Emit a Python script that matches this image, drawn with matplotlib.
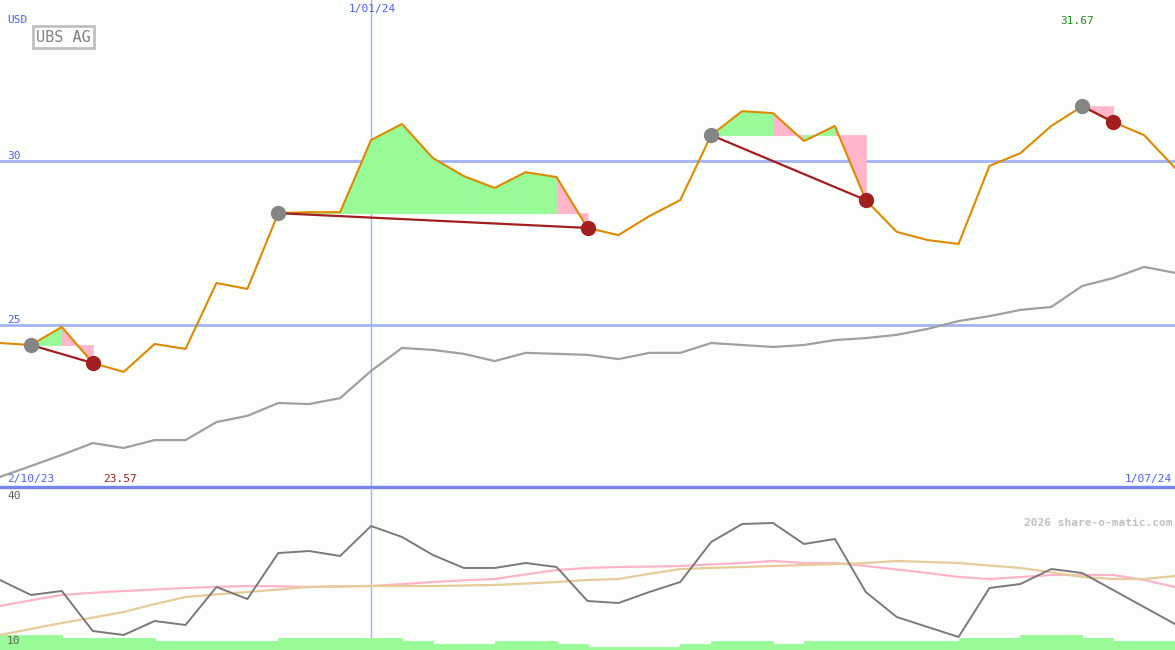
import matplotlib
matplotlib.use("Agg")
import matplotlib.pyplot as plt
import numpy as np

# weekly closes, 9 Oct 2023 .. 1 Jul 2024 (USD)
close = [24.45, 24.39, 24.94, 23.84, 23.57, 24.42, 24.27, 26.28, 26.10, 28.41,
         28.44, 28.44, 30.64, 31.13, 30.09, 29.54, 29.18, 29.66, 29.51, 27.96,
         27.74, 28.32, 28.81, 30.79, 31.52, 31.46, 30.61, 31.07, 28.81, 27.84,
         27.59, 27.47, 29.85, 30.24, 31.07, 31.67, 31.19, 30.79, 29.79]

# long moving average
avg = [20.37, 20.70, 21.04, 21.40, 21.25, 21.49, 21.49, 22.04, 22.23, 22.62,
       22.59, 22.77, 23.60, 24.30, 24.24, 24.12, 23.90, 24.15, 24.12, 24.09,
       23.96, 24.15, 24.15, 24.45, 24.39, 24.33, 24.39, 24.54, 24.60, 24.70,
       24.88, 25.12, 25.27, 25.46, 25.55, 26.19, 26.43, 26.77, 26.59]

# lower panel indicators
osc = [22.96, 20.19, 20.93, 13.52, 12.78, 15.37, 14.63, 21.67, 19.44, 27.96,
       28.33, 27.41, 32.96, 30.93, 27.59, 25.19, 25.19, 26.11, 25.37, 19.07,
       18.70, 20.74, 22.59, 30.00, 33.33, 33.52, 29.63, 30.56, 20.74, 16.11,
       14.26, 12.41, 21.48, 22.22, 25.00, 24.26, 21.11, 17.96, 14.81]
sig_pink = [18.15, 19.2, 20.19, 20.6, 20.93, 21.2, 21.48, 21.7, 21.85, 21.8,
            21.67, 21.75, 21.85, 22.2, 22.59, 22.9, 23.15, 24.0, 24.81, 25.19,
            25.37, 25.45, 25.56, 25.85, 26.11, 26.48, 26.11, 26.11, 25.56, 24.9,
            24.26, 23.52, 23.15, 23.5, 23.89, 23.89, 23.89, 22.96, 21.67]
sig_tan = [12.78, 13.9, 15.0, 16.0, 17.04, 18.5, 19.81, 20.3, 20.74, 21.2,
           21.67, 21.8, 21.85, 21.85, 21.85, 21.95, 22.04, 22.3, 22.59, 22.96,
           23.15, 24.1, 25.0, 25.2, 25.37, 25.55, 25.74, 25.9, 26.11, 26.48,
           26.3, 26.11, 25.65, 25.19, 24.4, 23.52, 23.15, 23.15, 23.70]
volume = [5, 5, 4, 4, 4, 3, 3, 3, 3, 4, 4, 4, 4, 3, 2, 2, 3, 3, 2, 1,
          1, 1, 2, 3, 3, 2, 3, 3, 3, 3, 3, 4, 4, 5, 5, 4, 3, 3, 3]

# trades: entry index, exit index
entries = [1, 9, 23, 35]
exits = [3, 19, 28, 36]

x = np.arange(len(close))
W, H = 1175, 650
bg = "#fcfefc"
mono = "DejaVu Sans Mono"

fig = plt.figure(figsize=(W / 100, H / 100), dpi=100, facecolor=bg)

# main price panel
ax = fig.add_axes([0, (H - 487) / H, 1, 487 / H], facecolor=bg)
ax.set_xlim(0, 38)
ax.set_ylim(20.06, 34.91)
ax.axis("off")

for lvl in [25, 30]:
    ax.axhline(lvl, color="#a3b3f3", lw=2.0, zorder=1)
ax.axvline(12, color="#a3b3f3", lw=1.0, zorder=1)
ax.axhline(20.06, color="#7585ef", lw=2.4, zorder=6, clip_on=False)

for e, q in zip(entries, exits):
    lvl = close[e]
    for i in range(e, q):
        col = "#98fb98" if close[i + 1] >= lvl else "#fdb6ca"
        ax.fill_between([i, i + 1], [close[i], close[i + 1]], lvl,
                        facecolor=col, edgecolor=col, lw=0.6, zorder=2)

ax.plot(x, avg, color="#a0a0a0", lw=1.6, zorder=3)
ax.plot(x, close, color="#dd8a00", lw=1.5, zorder=4)
for e, q in zip(entries, exits):
    ax.plot([e, q], [close[e], close[q]], color="#a31f1f", lw=1.6, zorder=5)
    ax.plot(e, close[e], "o", color="#858585", ms=10, zorder=6)
    ax.plot(q, close[q], "o", color="#a31f1f", ms=10, zorder=6)

# lower indicator panel
rect = [0, 0, 1, 162 / H]
axv = fig.add_axes(rect, facecolor=bg)
axv.set_xlim(0, 38)
axv.set_ylim(0, 54)
axv.axis("off")
axv.axvline(12, color="#a3b3f3", lw=1.0, zorder=1)
axv.bar(x, volume, width=1, align="edge", color="#98fb98",
        edgecolor="#98fb98", lw=0.6, zorder=2)

axl = fig.add_axes(rect)
axl.patch.set_visible(False)
axl.set_xlim(0, 38)
axl.set_ylim(10, 40)
axl.axis("off")
axl.plot(x, sig_pink, color="#fcb4c8", lw=1.6)
axl.plot(x, sig_tan, color="#e5cc98", lw=1.6)
axl.plot(x, osc, color="#7a7a7a", lw=1.4)

# labels
def label(px, py, s, color, size=8, ha="left", **kw):
    fig.text(px / W, 1 - py / H, s, color=color, fontsize=size, ha=ha,
             va="center", family=mono, **kw)

label(7, 20, "USD", "#5060f0")
label(372, 9, "1/01/24", "#5060f0", ha="center")
label(7, 156, "30", "#5060f0")
label(7, 320, "25", "#5060f0")
label(7, 479, "2/10/23", "#5060f0")
label(103, 479, "23.57", "#a31f1f")
label(1172, 479, "1/07/24", "#5060f0", ha="right")
label(1060, 21, "31.67", "#228b22")
label(7, 496, "40", "#606060")
label(7, 641, "10", "#606060")
label(1172, 523, "2026 share-o-matic.com", "#c0c0c0", ha="right",
      fontweight="bold")
fig.text(36 / W, 1 - 37 / H, "UBS AG", color="#808080", fontsize=11,
         family=mono, va="center", ha="left",
         bbox=dict(boxstyle="square,pad=0.2", fc=bg, ec="#c0c0c0", lw=2))

fig.savefig("out.png", dpi=100, facecolor=bg)
